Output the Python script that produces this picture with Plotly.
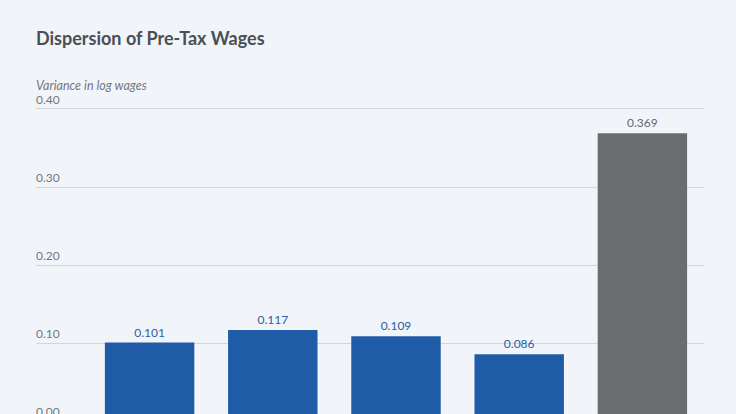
import plotly.graph_objects as go

categories = ["A", "B", "C", "D", "E"]
values = [0.101, 0.117, 0.109, 0.086, 0.369]
value_labels = ["0.101", "0.117", "0.109", "0.086", "0.369"]
tick_values = [0.0, 0.1, 0.2, 0.3, 0.4]
tick_labels = ["0.00", "0.10", "0.20", "0.30", "0.40"]

BLUE = "#1f5ba7"
GRAY = "#6b6c70"
BG = "#f1f5f9"
bar_colors = [BLUE, BLUE, BLUE, BLUE, GRAY]
text_colors = ["#2d5e9e", "#2d5e9e", "#2d5e9e", "#2d5e9e", "#66686c"]

FONT = "Lato"
Y_RANGE = [0.0095, 0.4115]

fig = go.Figure()
fig.add_trace(go.Bar(
    x=categories, y=values,
    marker=dict(color=bar_colors, line=dict(width=0)),
    text=value_labels, textposition="outside",
    textfont=dict(family=FONT, size=12, color=text_colors),
    cliponaxis=False, hoverinfo="skip",
))

annotations = [
    dict(text="<b>Dispersion of Pre-Tax Wages</b>", xref="paper", yref="paper",
         x=0, y=1, xanchor="left", yanchor="middle", yshift=62, xshift=-2,
         showarrow=False, font=dict(family=FONT, size=18, color="#4b4f55")),
    dict(text="<i>Variance in log wages</i>", xref="paper", yref="paper",
         x=0, y=1, xanchor="left", yanchor="middle", yshift=15, xshift=-2,
         showarrow=False, font=dict(family=FONT, size=12.5, color="#74777c")),
]
span = Y_RANGE[1] - Y_RANGE[0]
for v, t in zip(tick_values, tick_labels):
    annotations.append(dict(text=t, xref="paper", yref="paper", x=0,
                            y=(v - Y_RANGE[0]) / span,
                            xanchor="left", yanchor="bottom", yshift=0, xshift=-2,
                            showarrow=False,
                            font=dict(family=FONT, size=12, color="#74777c")))

fig.update_layout(
    width=736, height=414,
    margin=dict(l=36, r=32, t=100, b=0),
    paper_bgcolor=BG, plot_bgcolor=BG,
    bargap=0.274, showlegend=False,
    xaxis=dict(range=[-0.922, 4.5], showticklabels=False, showgrid=False,
               zeroline=False, showline=False, ticks=""),
    yaxis=dict(range=Y_RANGE, tickvals=tick_values, showticklabels=False,
               showgrid=True, gridcolor="#d3d6da", gridwidth=1, zeroline=False,
               showline=False, ticks=""),
    annotations=annotations,
)

fig.write_html(
    "out.html",
    config={"displayModeBar": False, "staticPlot": True},
    post_script="document.body.style.margin='0';document.body.style.overflow='hidden';",
)
